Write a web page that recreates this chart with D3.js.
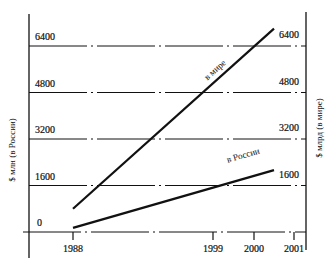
<!DOCTYPE html>
<html>
<head>
<meta charset="utf-8">
<script src="https://cdn.jsdelivr.net/npm/d3@7"></script>
<style>
body { margin: 0; background: #fff; }
text { font-family: "Liberation Serif", "DejaVu Serif", serif; fill: #111; }
</style>
</head>
<body>
<svg width="336" height="260"></svg>
<script>
var years = [1988, 2000.5]
var world = [800, 7000]      // $ млрд (в мире)
var russia = [140, 2130]     // $ млн (в России)
var xTicks = [1988, 1999, 2000, 2001]
var yTicks = [0, 1600, 3200, 4800, 6400]

var svg = d3.select("svg")

// axis is broken, so piecewise scale
var x = d3.scaleLinear().domain([1988, 1999, 2000, 2001]).range([73, 213, 254, 294])
var y = d3.scaleLinear().domain([0, 6400]).range([232, 46])

var left = 29, right = 306

// frame
svg.append("line").attr("x1", left).attr("x2", left).attr("y1", 14).attr("y2", 258)
  .style("stroke", "#111").style("stroke-width", 1.3)
svg.append("line").attr("x1", right).attr("x2", right).attr("y1", 12).attr("y2", 250)
  .style("stroke", "#111").style("stroke-width", 1.3)

// grid lines
svg.append("g").selectAll("line")
  .data(yTicks)
  .enter().append("line")
    .attr("x1", function(d) { return d == 0 ? left - 6 : left })
    .attr("x2", right)
    .attr("y1", function(d) { return y(d) })
    .attr("y2", function(d) { return y(d) })
    .style("stroke", "#111")
    .style("stroke-width", 1)
    .style("stroke-dasharray", "58,4,2,4")

// left tick labels
svg.append("g").selectAll("text")
  .data(yTicks)
  .enter().append("text")
    .attr("x", function(d) { return d == 0 ? 37 : 35 })
    .attr("y", function(d) { return y(d) - 6 })
    .style("font-size", "10px")
    .style("stroke", "#111").style("stroke-width", 0.2)
    .text(function(d) { return d })

// right tick labels
svg.append("g").selectAll("text")
  .data(yTicks.filter(function(d) { return d > 0 }))
  .enter().append("text")
    .attr("x", 299)
    .attr("y", function(d) { return y(d) - 8 })
    .attr("text-anchor", "end")
    .style("font-size", "10px")
    .style("stroke", "#111").style("stroke-width", 0.2)
    .text(function(d) { return d })

// x ticks
svg.append("g").selectAll("line")
  .data(xTicks)
  .enter().append("line")
    .attr("x1", function(d) { return x(d) })
    .attr("x2", function(d) { return x(d) })
    .attr("y1", y(0))
    .attr("y2", y(0) + 8)
    .style("stroke", "#111")
    .style("stroke-width", 1.2)

svg.append("g").selectAll("text")
  .data(xTicks)
  .enter().append("text")
    .attr("x", function(d) { return x(d) })
    .attr("y", 252)
    .attr("text-anchor", "middle")
    .style("font-size", "10px")
    .style("stroke", "#111").style("stroke-width", 0.2)
    .text(function(d) { return d })

// series
var lineGen = d3.line()
  .x(function(d) { return x(d[0]) })
  .y(function(d) { return y(d[1]) })

svg.append("path")
  .datum(d3.zip(years, world))
  .attr("d", lineGen)
  .style("fill", "none").style("stroke", "#111").style("stroke-width", 2.2)

svg.append("path")
  .datum(d3.zip(years, russia))
  .attr("d", lineGen)
  .style("fill", "none").style("stroke", "#111").style("stroke-width", 2.4)

// series labels along the lines
function angle(vals) {
  return Math.atan2(y(vals[1]) - y(vals[0]), x(years[1]) - x(years[0])) * 180 / Math.PI
}
svg.append("text")
  .attr("transform", "translate(217,72) rotate(" + angle(world) + ")")
  .attr("text-anchor", "middle")
  .style("font-size", "9px")
  .text("в мире")

svg.append("text")
  .attr("transform", "translate(244,158) rotate(" + angle(russia) + ")")
  .attr("text-anchor", "middle")
  .style("font-size", "9px")
  .text("в России")

// axis titles
svg.append("text")
  .attr("transform", "translate(15,150) rotate(-90)")
  .attr("text-anchor", "middle")
  .style("font-size", "9px")
  .text("$ млн (в России)")

svg.append("text")
  .attr("transform", "translate(322,128) rotate(-90)")
  .attr("text-anchor", "middle")
  .style("font-size", "9px")
  .text("$ млрд (в мире)")
</script>
</body>
</html>
